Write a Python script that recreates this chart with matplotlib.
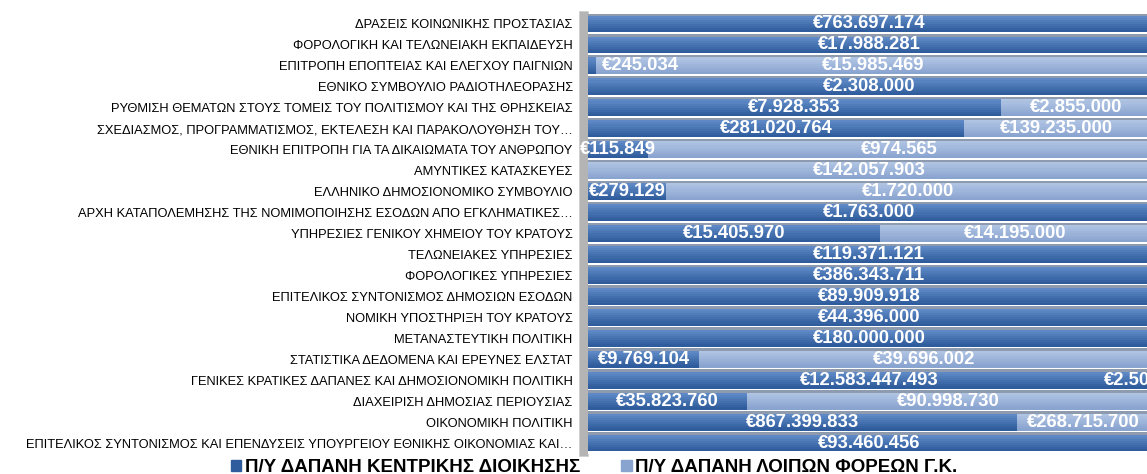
import numpy as np
import matplotlib.pyplot as plt
from matplotlib.patches import Rectangle
from matplotlib.colors import to_rgb

plt.switch_backend('agg')
plt.rcParams['font.family'] = ['Liberation Sans', 'DejaVu Sans']

categories = [
    "ΔΡΑΣΕΙΣ ΚΟΙΝΩΝΙΚΗΣ ΠΡΟΣΤΑΣΙΑΣ",
    "ΦΟΡΟΛΟΓΙΚΗ ΚΑΙ ΤΕΛΩΝΕΙΑΚΗ ΕΚΠΑΙΔΕΥΣΗ",
    "ΕΠΙΤΡΟΠΗ ΕΠΟΠΤΕΙΑΣ ΚΑΙ ΕΛΕΓΧΟΥ ΠΑΙΓΝΙΩΝ",
    "ΕΘΝΙΚΟ ΣΥΜΒΟΥΛΙΟ ΡΑΔΙΟΤΗΛΕΟΡΑΣΗΣ",
    "ΡΥΘΜΙΣΗ ΘΕΜΑΤΩΝ ΣΤΟΥΣ ΤΟΜΕΙΣ ΤΟΥ ΠΟΛΙΤΙΣΜΟΥ ΚΑΙ ΤΗΣ ΘΡΗΣΚΕΙΑΣ",
    "ΣΧΕΔΙΑΣΜΟΣ, ΠΡΟΓΡΑΜΜΑΤΙΣΜΟΣ, ΕΚΤΕΛΕΣΗ ΚΑΙ ΠΑΡΑΚΟΛΟΥΘΗΣΗ ΤΟΥ…",
    "ΕΘΝΙΚΗ ΕΠΙΤΡΟΠΗ ΓΙΑ ΤΑ ΔΙΚΑΙΩΜΑΤΑ ΤΟΥ ΑΝΘΡΩΠΟΥ",
    "ΑΜΥΝΤΙΚΕΣ ΚΑΤΑΣΚΕΥΕΣ",
    "ΕΛΛΗΝΙΚΟ ΔΗΜΟΣΙΟΝΟΜΙΚΟ ΣΥΜΒΟΥΛΙΟ",
    "ΑΡΧΗ ΚΑΤΑΠΟΛΕΜΗΣΗΣ ΤΗΣ ΝΟΜΙΜΟΠΟΙΗΣΗΣ ΕΣΟΔΩΝ ΑΠΟ ΕΓΚΛΗΜΑΤΙΚΕΣ…",
    "ΥΠΗΡΕΣΙΕΣ ΓΕΝΙΚΟΥ ΧΗΜΕΙΟΥ ΤΟΥ ΚΡΑΤΟΥΣ",
    "ΤΕΛΩΝΕΙΑΚΕΣ ΥΠΗΡΕΣΙΕΣ",
    "ΦΟΡΟΛΟΓΙΚΕΣ ΥΠΗΡΕΣΙΕΣ",
    "ΕΠΙΤΕΛΙΚΟΣ ΣΥΝΤΟΝΙΣΜΟΣ ΔΗΜΟΣΙΩΝ ΕΣΟΔΩΝ",
    "ΝΟΜΙΚΗ ΥΠΟΣΤΗΡΙΞΗ ΤΟΥ ΚΡΑΤΟΥΣ",
    "ΜΕΤΑΝΑΣΤΕΥΤΙΚΗ ΠΟΛΙΤΙΚΗ",
    "ΣΤΑΤΙΣΤΙΚΑ ΔΕΔΟΜΕΝΑ ΚΑΙ ΕΡΕΥΝΕΣ ΕΛΣΤΑΤ",
    "ΓΕΝΙΚΕΣ ΚΡΑΤΙΚΕΣ ΔΑΠΑΝΕΣ ΚΑΙ ΔΗΜΟΣΙΟΝΟΜΙΚΗ ΠΟΛΙΤΙΚΗ",
    "ΔΙΑΧΕΙΡΙΣΗ ΔΗΜΟΣΙΑΣ ΠΕΡΙΟΥΣΙΑΣ",
    "ΟΙΚΟΝΟΜΙΚΗ ΠΟΛΙΤΙΚΗ",
    "ΕΠΙΤΕΛΙΚΟΣ ΣΥΝΤΟΝΙΣΜΟΣ ΚΑΙ ΕΠΕΝΔΥΣΕΙΣ ΥΠΟΥΡΓΕΙΟΥ ΕΘΝΙΚΗΣ ΟΙΚΟΝΟΜΙΑΣ ΚΑΙ…",
]

central = [763697174, 17988281, 245034, 2308000, 7928353, 281020764, 115849, 0,
           279129, 1763000, 15405970, 119371121, 386343711, 89909918, 44396000,
           180000000, 9769104, 12583447493, 35823760, 867399833, 93460456]
others = [0, 0, 15985469, 0, 2855000, 139235000, 974565, 142057903,
          1720000, 0, 14195000, 0, 0, 0, 0,
          0, 39696002, 2500000, 90998730, 268715700, 0]

series_names = ["Π/Υ ΔΑΠΑΝΗ ΚΕΝΤΡΙΚΗΣ ΔΙΟΙΚΗΣΗΣ", "Π/Υ ΔΑΠΑΝΗ ΛΟΙΠΩΝ ΦΟΡΕΩΝ Γ.Κ."]

# top/bottom colours for the fake 3d gradient
dark_top, dark_bot = "#5E89C6", "#2F5C9C"
light_top, light_bot = "#AFC3E3", "#8AA4D0"


def fmt(v):
    return "€" + f"{v:,}".replace(",", ".")


W, H = 1147, 474
fig = plt.figure(figsize=(W / 100, H / 100), dpi=100)
ax = fig.add_axes([588 / W, 1 - 453.5 / H, 562 / W, 440 / H])

n = len(categories)
y = np.arange(n)
c = np.array(central, dtype=float)
o = np.array(others, dtype=float)
tot = c + o
cf = c / tot
of = o / tot

bar_h = 0.8
strips = 8


def grad_barh(left, width, top_col, bot_col):
    t = np.array(to_rgb(top_col))
    b = np.array(to_rgb(bot_col))
    sh = bar_h / strips
    for k in range(strips):
        f = k / (strips - 1)
        col = t * (1 - f) + b * f
        yy = y - bar_h / 2 + sh * (k + 0.5)
        ax.barh(yy, width, left=left, height=sh * 1.05, color=col, linewidth=0)


grad_barh(0, cf, dark_top, dark_bot)
grad_barh(cf, of, light_top, light_bot)
# thin grey top face of the 3d bars
ax.barh(y - bar_h / 2 - 0.06, cf + of, left=0, height=0.12, color="#8E9AAE", linewidth=0)

lab = dict(color="white", fontweight="bold", fontsize=13.3, va="center", zorder=5)
for i in range(n):
    if c[i] > 0:
        if cf[i] < 0.05:
            ax.text(0.025, y[i], fmt(central[i]), ha="left", **lab)
        else:
            ax.text(cf[i] / 2, y[i], fmt(central[i]), ha="center", **lab)
    if o[i] > 0:
        ax.text(cf[i] + of[i] / 2, y[i], fmt(others[i]), ha="center", **lab)

ax.set_xlim(0, 1)
ax.set_ylim(n - 0.5, -0.5)
ax.set_yticks(y)
ax.set_yticklabels(categories, fontsize=9.3)
ax.tick_params(axis="y", length=0, pad=11)
ax.set_xticks([])
for s in ax.spines.values():
    s.set_visible(False)

# grey side wall on the left
wall = Rectangle((579 / W, 1 - 456 / H), 9 / W, 445 / H, transform=fig.transFigure,
                 facecolor="#B4B4B4", edgecolor="#CFCFCF", linewidth=0.6, zorder=-1)
fig.patches.append(wall)

handles = [Rectangle((0, 0), 1, 1, color=dark_bot), Rectangle((0, 0), 1, 1, color=light_bot)]
fig.legend(handles, series_names, loc="center", bbox_to_anchor=(594 / W, 1 - 467.5 / H), ncol=2,
           frameon=False, prop={"weight": "bold", "size": 13.5}, handlelength=0.55, handleheight=0.55,
           handletextpad=0.2, columnspacing=2.2, borderpad=0)

fig.savefig("out.png", dpi=100)
